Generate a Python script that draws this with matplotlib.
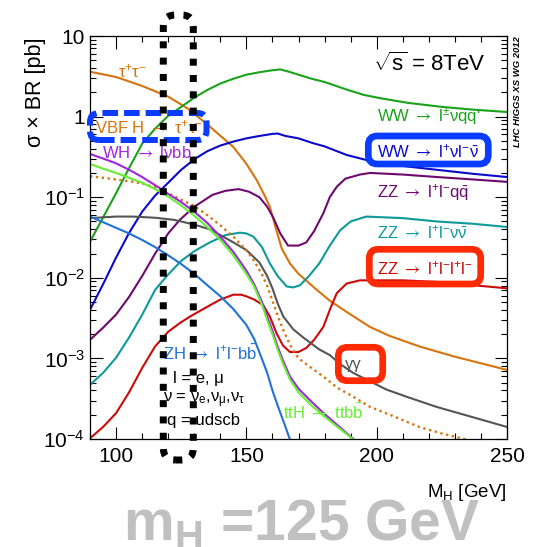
import numpy as np
import matplotlib
matplotlib.use('Agg')
import matplotlib.pyplot as plt
from matplotlib.patches import FancyBboxPatch
from matplotlib.transforms import IdentityTransform
from matplotlib.ticker import FixedLocator, LogLocator, NullFormatter

plt.rcParams['font.family'] = ['Liberation Sans', 'DejaVu Sans']
plt.rcParams['mathtext.fontset'] = 'custom'
plt.rcParams['mathtext.rm'] = 'Liberation Sans'
plt.rcParams['mathtext.it'] = 'Liberation Sans:italic'
plt.rcParams['mathtext.bf'] = 'Liberation Sans:bold'
plt.rcParams['mathtext.sf'] = 'STIXGeneral'
plt.rcParams['mathtext.default'] = 'regular'

# ---------------- data (sigma x BR in pb vs M_H in GeV) ----------------
mh_tautau = [90, 100, 110, 120, 128, 136, 145, 150, 154, 157, 159, 161.6, 163.6, 166.7, 170, 177, 182, 190, 197.5, 205, 216.6, 230, 250]
xs_tautau = [3.6, 3.1, 2.4, 1.77, 1.23, 0.75, 0.42, 0.26, 0.162, 0.105, 0.076, 0.038, 0.023, 0.0151, 0.0112, 0.0071, 0.0052, 0.0035, 0.00245, 0.0019, 0.0014, 0.00105, 0.00072]

mh_wwlnqq = [90, 95, 100, 105, 110, 115, 120, 125, 130, 135, 140, 145, 150, 155, 160, 163, 166, 170, 175, 180, 188, 195, 201, 212, 225, 237, 250]
xs_wwlnqq = [0.028, 0.056, 0.112, 0.23, 0.46, 0.71, 1.02, 1.32, 1.72, 2.14, 2.57, 2.95, 3.31, 3.55, 3.76, 3.85, 3.63, 3.31, 2.95, 2.69, 2.19, 1.86, 1.70, 1.48, 1.32, 1.22, 1.14]

mh_wwlnln = [90, 95, 100, 105, 110, 115, 120, 125, 130, 135, 140, 145, 150, 155, 160, 162, 165, 170, 175.6, 180, 188.5, 195, 201, 212, 223, 237, 250]
xs_wwlnln = [0.0040, 0.0083, 0.0178, 0.036, 0.066, 0.105, 0.151, 0.219, 0.295, 0.372, 0.437, 0.49, 0.537, 0.575, 0.61, 0.617, 0.575, 0.537, 0.468, 0.427, 0.334, 0.295, 0.265, 0.240, 0.219, 0.195, 0.178]

mh_zzllqq = [90, 95, 100, 105, 110, 115, 120, 124.5, 130, 137, 142, 147, 151, 155, 158, 160.3, 163, 166, 170, 173, 176, 179.5, 182, 184.7, 188, 193.6, 197.5, 210, 223, 237, 250]
xs_zzllqq = [0.0017, 0.0024, 0.0035, 0.0058, 0.0105, 0.020, 0.0355, 0.0525, 0.076, 0.107, 0.120, 0.126, 0.117, 0.100, 0.076, 0.056, 0.0355, 0.0251, 0.0251, 0.0275, 0.038, 0.063, 0.100, 0.135, 0.170, 0.191, 0.200, 0.191, 0.178, 0.166, 0.155]

mh_zzllnn = [90, 95, 100, 105, 110, 115, 120, 125, 130, 136, 142, 147.5, 150, 152.7, 156, 159, 162, 165.5, 168, 170.6, 174, 178, 182, 186, 190, 196, 210, 223, 237, 250]
xs_zzllnn = [0.00047, 0.00066, 0.00102, 0.00182, 0.00347, 0.0071, 0.011, 0.0162, 0.0214, 0.0275, 0.0339, 0.0363, 0.0355, 0.0324, 0.024, 0.0151, 0.0105, 0.0078, 0.0076, 0.0081, 0.0105, 0.0151, 0.0251, 0.0389, 0.050, 0.0575, 0.055, 0.050, 0.0468, 0.0427]

mh_zz4l = [90, 95, 100, 105, 110, 115, 120, 124.5, 128.4, 135, 140, 145, 148, 150, 153, 156.5, 159, 161.6, 164, 166.7, 170, 173, 176, 179.5, 182, 184.7, 188.5, 193.6, 210, 223, 237, 250]
xs_zz4l = [0.000102, 0.000141, 0.000209, 0.00038, 0.00076, 0.00141, 0.00214, 0.00275, 0.00331, 0.00437, 0.00537, 0.00617, 0.00617, 0.00589, 0.00537, 0.00457, 0.00331, 0.00204, 0.00145, 0.0012, 0.0012, 0.00135, 0.0017, 0.00245, 0.0040, 0.00646, 0.0085, 0.0093, 0.0093, 0.0089, 0.0081, 0.0074]

mh_gamgam = [90, 100, 106.5, 115, 122, 125, 130, 136, 140, 145, 150, 155, 158, 160, 162, 164.2, 168, 171.8, 178, 182, 186, 191, 203.8, 212, 223, 237, 250]
xs_gamgam = [0.055, 0.0575, 0.0575, 0.0556, 0.0525, 0.050, 0.0457, 0.040, 0.0339, 0.0275, 0.0221, 0.0155, 0.0105, 0.0074, 0.0048, 0.0033, 0.00229, 0.00182, 0.00129, 0.0011, 0.00085, 0.00066, 0.00041, 0.00033, 0.00025, 0.000186, 0.000141]

mh_vbftautau = [90, 95, 100, 105, 110, 115, 120, 125, 130, 135, 140, 145, 150, 153, 156, 158, 160, 162, 164, 166.7, 170, 175, 180, 185, 190, 197.5, 205, 216.6, 225, 234.6]
xs_vbftautau = [0.182, 0.174, 0.166, 0.158, 0.148, 0.132, 0.112, 0.093, 0.078, 0.060, 0.0447, 0.0324, 0.0219, 0.0162, 0.011, 0.0079, 0.0052, 0.0034, 0.0023, 0.00148, 0.0010, 0.00076, 0.00058, 0.00043, 0.00035, 0.00025, 0.0002, 0.00014, 0.000117, 0.000098]

mh_whlnbb = [90, 95, 100, 105, 110, 115, 120, 125, 130, 135, 140, 145, 150, 153, 156, 158, 160, 162, 164, 166.7, 170, 175, 180, 185, 190, 193]
xs_whlnbb = [0.344, 0.302, 0.263, 0.219, 0.178, 0.141, 0.110, 0.087, 0.066, 0.048, 0.0324, 0.0209, 0.0123, 0.0083, 0.0050, 0.0033, 0.0022, 0.0014, 0.00095, 0.0006, 0.00042, 0.00029, 0.000204, 0.000148, 0.000107, 0.000089]

mh_tthbb = [90, 95, 100, 105, 110, 115, 120, 125, 130, 135, 140, 145, 150, 153, 156, 158, 160, 162, 164, 166.7, 170, 175, 180, 185, 190, 193]
xs_tthbb = [0.258, 0.226, 0.20, 0.174, 0.151, 0.126, 0.102, 0.079, 0.059, 0.0427, 0.0295, 0.019, 0.0112, 0.0078, 0.0046, 0.0030, 0.0020, 0.00129, 0.00087, 0.00055, 0.00038, 0.00026, 0.00019, 0.000141, 0.000105, 0.000089]

mh_zhllbb = [90, 95, 100, 105, 110, 115, 120, 125, 130, 135, 140, 145, 150, 153, 156, 158, 160, 162, 164, 167]
xs_zhllbb = [0.0575, 0.049, 0.0417, 0.0355, 0.0295, 0.024, 0.019, 0.0148, 0.0112, 0.0081, 0.0059, 0.0041, 0.0026, 0.00174, 0.00098, 0.00066, 0.0004, 0.00026, 0.000174, 0.000093]

x_major = [100, 150, 200, 250]
x_minor = list(range(90, 251, 10))
y_ticks = [1e-4, 1e-3, 1e-2, 1e-1, 1, 10]
y_ticklabels = [r'$10^{-4}$', r'$10^{-3}$', r'$10^{-2}$', r'$10^{-1}$', '1', '10']

# ---------------- figure ----------------
W, H = 539, 547
fig = plt.figure(figsize=(W / 100, H / 100), dpi=100)
fig.patch.set_facecolor('white')


def fx(px):
    return px / W


def fy(py):
    return 1 - py / H


ax = fig.add_axes([fx(90), fy(439), (507 - 90) / W, (439 - 36) / H])

c_orange = '#d9730d'
c_green = '#1aa31a'
c_blue = '#0a0acc'
c_purple = '#6e0a6e'
c_teal = '#0e9a9a'
c_red = '#cc0a0a'
c_gray = '#555555'
c_violet = '#a024e0'
c_lgreen = '#66ee33'
c_lblue = '#1f72d6'

lw = 1.5
ax.plot(mh_tautau, xs_tautau, color=c_orange, lw=lw)
ax.plot(mh_wwlnqq, xs_wwlnqq, color=c_green, lw=lw)
ax.plot(mh_wwlnln, xs_wwlnln, color=c_blue, lw=lw)
ax.plot(mh_zzllqq, xs_zzllqq, color=c_purple, lw=lw)
ax.plot(mh_zzllnn, xs_zzllnn, color=c_teal, lw=lw)
ax.plot(mh_zz4l, xs_zz4l, color=c_red, lw=lw)
ax.plot(mh_gamgam, xs_gamgam, color=c_gray, lw=lw)
ax.plot(mh_vbftautau, xs_vbftautau, color=c_orange, lw=1.7, ls=(0, (1.0, 1.5)))
ax.plot(mh_zhllbb, xs_zhllbb, color=c_lblue, lw=lw)
ax.plot(mh_whlnbb, xs_whlnbb, color=c_violet, lw=lw)
ax.plot(mh_tthbb, xs_tthbb, color=c_lgreen, lw=lw)

ax.set_yscale('log')
ax.set_xlim(90, 250)
ax.set_ylim(1e-4, 10)

ax.xaxis.set_major_locator(FixedLocator(x_major))
ax.xaxis.set_minor_locator(FixedLocator(x_minor))
ax.set_xticklabels([str(v) for v in x_major])
ax.yaxis.set_major_locator(FixedLocator(y_ticks))
ax.set_yticklabels(y_ticklabels)
ax.yaxis.set_minor_locator(LogLocator(base=10, subs=np.arange(2, 10)))
ax.yaxis.set_minor_formatter(NullFormatter())

ax.tick_params(axis='both', which='both', direction='in', top=True, right=True, width=0.8)
ax.tick_params(axis='both', which='major', length=9, labelsize=15)
ax.tick_params(axis='both', which='minor', length=4.5)
ax.tick_params(axis='x', which='major', pad=5.5)
ax.tick_params(axis='y', which='major', pad=3.5)
for s in ax.spines.values():
    s.set_linewidth(0.9)

# ---------------- labels ----------------
AR = r' $\mathsf{\rightarrow}$ '


def label(px, py, s, color='black', size=12, ha='left', **kw):
    fig.text(fx(px), fy(py), s, color=color, fontsize=size, ha=ha, va='center', **kw)


label(118, 71, r'τ$^{+}$τ$^{-}$', c_orange)
label(95, 127, r'VBF H' + AR + r'τ$^{+}$τ$^{-}$', c_orange)
label(102, 152, r'WH' + AR + r'lνb$\bar{b}$', c_violet)
label(377, 117, r'WW' + AR + r"l$^{\pm}$νq$\bar{q}$'", c_green)
label(377, 151, r'WW' + AR + r'l$^{+}$νl$^{-}$$\bar{ν}$', c_blue)
label(377, 193, r'ZZ' + AR + r'l$^{+}$l$^{-}$q$\bar{q}$', c_purple)
label(377, 232, r'ZZ' + AR + r'l$^{+}$l$^{-}$ν$\bar{ν}$', c_teal)
label(377, 268, r'ZZ' + AR + r'l$^{+}$l$^{-}$l$^{+}$l$^{-}$', c_red)
label(353, 364, 'γγ', c_gray, ha='center')
label(163, 353, r'ZH' + AR + r'l$^{+}$l$^{-}$b$\bar{b}$', c_lblue)
label(173, 378, 'l = e, μ')
label(163, 400, r'ν = ν$_{e}$,ν$_{μ}$,ν$_{τ}$')
label(167, 420, 'q = udscb')
label(283, 412, r'ttH' + AR + r'tt$b\bar{b}$', c_lgreen)
label(373, 64, r'$\sqrt{s}$ = 8TeV', size=16)

fig.text(fx(518), fy(92), 'LHC HIGGS XS WG 2012', rotation=90, fontsize=6.8,
         fontweight='bold', fontstyle='italic', ha='center', va='center')
fig.text(fx(35), fy(92), 'σ × BR [pb]', rotation=90, fontsize=15.5, ha='center', va='center')
fig.text(fx(507), fy(497), r'M$_{H}$ [GeV]', fontsize=13.5, ha='right', va='baseline')
fig.text(fx(123), fy(540), r'm$_{\mathbf{H}}$ =125 GeV', fontsize=41, fontweight='bold',
         color='#c0c0c0', ha='left', va='baseline')


# ---------------- highlight boxes (pixel coordinates) ----------------
def rbox(x0, y0, x1, y1, color, lwpx, ls='solid', r=10, z=4):
    p = FancyBboxPatch((x0, H - y1), x1 - x0, y1 - y0,
                       boxstyle='round,pad=0,rounding_size=%g' % r,
                       transform=IdentityTransform(), fill=False,
                       edgecolor=color, linewidth=lwpx * 0.72, linestyle=ls,
                       zorder=z)
    fig.add_artist(p)


rbox(90, 113, 206.5, 140, '#0a3cff', 6, ls=(0, (2.6, 1.0)), r=9)
rbox(368.3, 136, 488.3, 164, '#0a3cff', 6.7, r=9)
rbox(369.3, 249.3, 480.7, 284, '#ff2a00', 6.7, r=9)
rbox(338.3, 347.3, 382.7, 380.7, '#ff2a00', 6.7, r=9)
rbox(163.3, 15, 193.3, 460, 'black', 7, ls=(0, (1, 1.33)), r=12, z=6)

fig.savefig('out.png', dpi=100, facecolor='white')
